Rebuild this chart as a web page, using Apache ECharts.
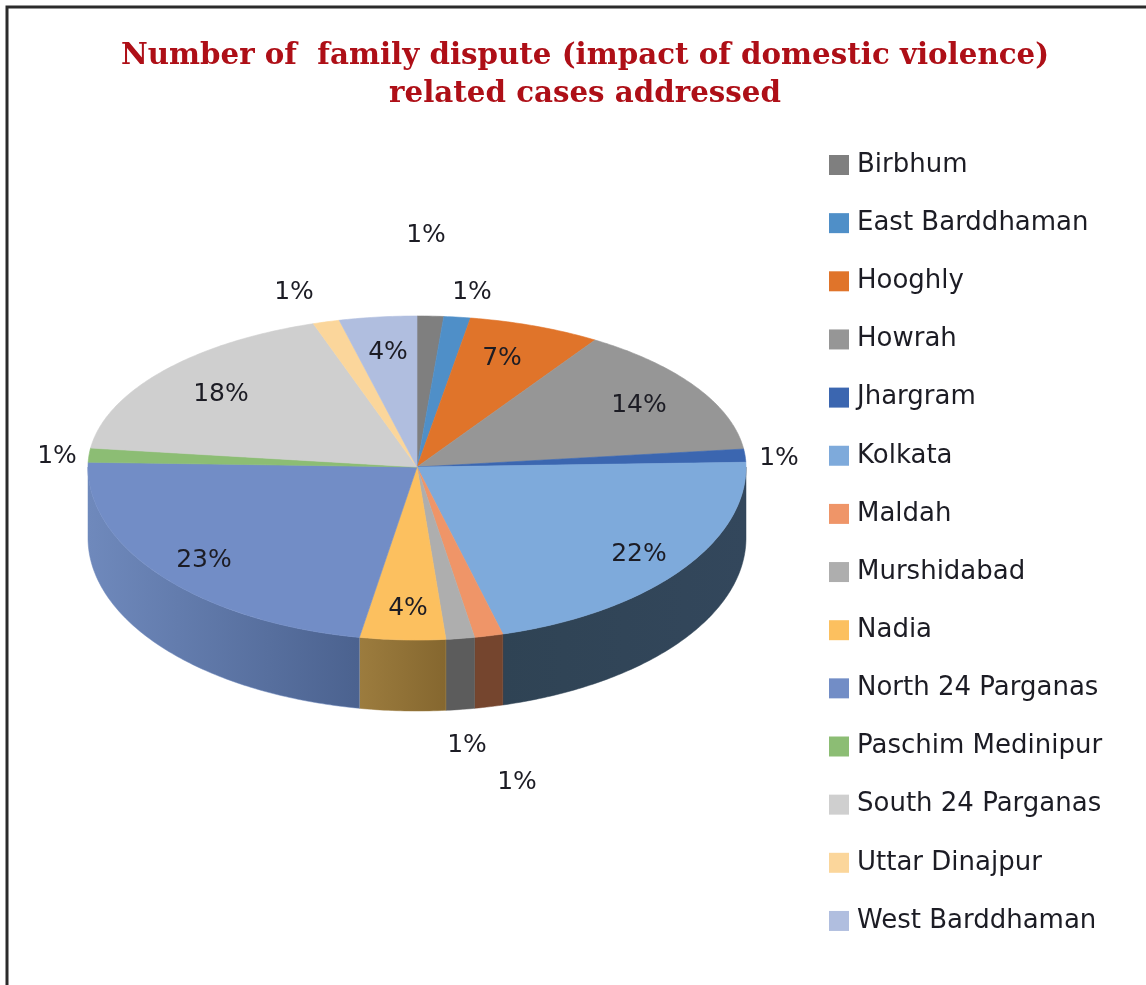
<!DOCTYPE html>
<html>
<head>
<meta charset="utf-8">
<style>html,body{margin:0;padding:0;background:#fff}#c{width:1146px;height:985px}</style>
<script src="https://cdn.jsdelivr.net/npm/echarts@6/dist/echarts.min.js"></script>
</head>
<body>
<div id="c"></div>
<script>
// ---- data ----
const districts = ['Birbhum','East Barddhaman','Hooghly','Howrah','Jhargram','Kolkata','Maldah','Murshidabad','Nadia','North 24 Parganas','Paschim Medinipur','South 24 Parganas','Uttar Dinajpur','West Barddhaman'];
const sliceShares = [1.3,1.3,6.5,14.0,1.4,21.3,1.4,1.4,4.2,22.7,1.5,17.9,1.3,3.8];
// percentages as printed on the chart
const printedPercents = [1,1,7,14,1,22,1,1,4,23,1,18,1,4];

// ---- style & layout ----
const topColors = ['#7f7f7f','#4f8fc8','#e0742a','#969696','#3b66b0','#7eaadb','#ef9568','#aeaeae','#fcc05f','#728dc6','#8cbd74','#cfcfcf','#fbd69b','#b0bedf'];
const wallColors = {5:['#2f4354','#33475c'],6:['#75452e','#75452e'],7:['#5c5c5c','#5c5c5c'],8:['#9c7c3e','#85672f'],9:['#6f89bc','#4b628f']};
const labelOffsets = [[9,-232],[55,-175],[85,-109],[222,-62],[362,-9],[222,87],[100,315],[50,278],[-9,141],[-213,93],[-360,-11],[-196,-73],[-123,-175],[-29,-115]];
const pie = {cx:417, cy:467, rx:329, ryTop:151, ryBottom:173, depth:71};
const LABEL_FONT = '25px "DejaVu Sans"';

const total = sliceShares.reduce((a,b)=>a+b,0);
const startAt = i => sliceShares.slice(0,i).reduce((a,b)=>a+b,0)/total*Math.PI*2;
function rim(phi){
  const s=Math.sin(phi), c=Math.cos(phi);
  return [pie.cx+pie.rx*s, pie.cy-c*(c>0?pie.ryTop:pie.ryBottom)];
}
function arc(a,b){
  const n=Math.max(2,Math.ceil((b-a)/(Math.PI/240))), pts=[];
  for(let k=0;k<=n;k++) pts.push(rim(a+(b-a)*k/n));
  return pts;
}
function renderSlice(i){
  return function(params, api){
    const share=api.value(0);
    const a=startAt(i), b=a+share/total*Math.PI*2;
    const children=[];
    const wa=Math.max(a,Math.PI/2), wb=Math.min(b,Math.PI*1.5);
    if(wb>wa && wallColors[i]){
      const edge=arc(wa,wb);
      const lower=edge.map(p=>[p[0],p[1]+pie.depth]).reverse();
      const xs=edge.map(p=>p[0]);
      const fill=new echarts.graphic.LinearGradient(Math.min(...xs),0,Math.max(...xs),0,
        [{offset:0,color:wallColors[i][0]},{offset:1,color:wallColors[i][1]}],true);
      children.push({type:'polygon',z2:1,shape:{points:edge.concat(lower)},style:{fill:fill,stroke:wallColors[i][0],lineWidth:0.5}});
    }
    children.push({type:'polygon',z2:2,shape:{points:[[pie.cx,pie.cy]].concat(arc(a,b))},
      style:{fill:topColors[i],stroke:topColors[i],lineWidth:0.6}});
    children.push({type:'text',z2:3,x:pie.cx+labelOffsets[i][0],y:pie.cy+labelOffsets[i][1],
      style:{text:printedPercents[i]+'%',font:LABEL_FONT,fill:'#1c1c24',align:'center',verticalAlign:'middle'}});
    return {type:'group',children:children};
  };
}
const chart=echarts.init(document.getElementById('c'),null,{renderer:'canvas'});
chart.setOption({
  animation:false,
  backgroundColor:'#fff',
  title:{
    text:'Number of  family dispute (impact of domestic violence)\nrelated cases addressed',
    left:580, top:32, textAlign:'center',
    textStyle:{fontFamily:'"DejaVu Serif"',fontWeight:'bold',fontSize:29.3,lineHeight:38,color:'#ae0f17'}
  },
  legend:{
    orient:'vertical', left:829, top:152, padding:0,
    itemWidth:20, itemHeight:20, itemGap:32.15, icon:'rect',
    selectedMode:false,
    data:districts,
    textStyle:{fontFamily:'"DejaVu Sans"',fontSize:26,color:'#1c1c24',padding:[0,0,0,3]}
  },
  graphic:[{type:'polyline',silent:true,shape:{points:[[7,985],[7,7],[1146,7]]},style:{stroke:'#2b2b2b',lineWidth:3,fill:'none'}}],
  series:districts.map((name,i)=>({
    type:'custom', name:name, coordinateSystem:'none', silent:true,
    itemStyle:{color:topColors[i]},
    data:[[sliceShares[i]]],
    renderItem:renderSlice(i)
  }))
});
</script>
</body>
</html>
